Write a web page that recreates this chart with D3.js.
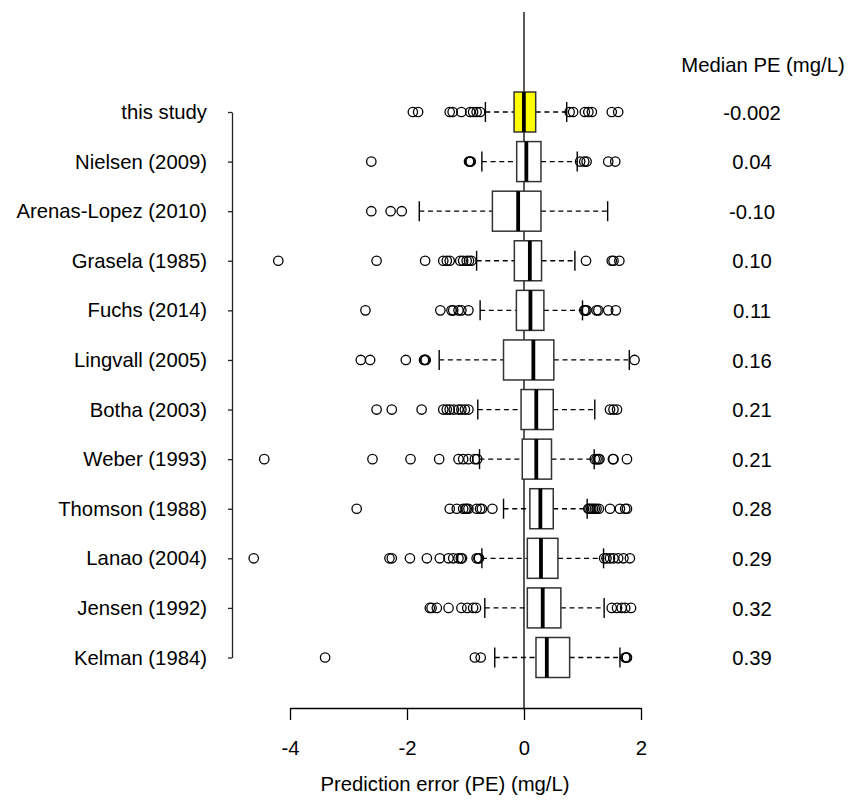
<!DOCTYPE html>
<html>
<head>
<meta charset="utf-8">
<script src="https://cdn.jsdelivr.net/npm/d3@7"></script>
<style>
  body { margin: 0; background: #fff; }
  text { font-family: "Liberation Sans", Arial, sans-serif; }
</style>
</head>
<body>
<div id="chart-area"></div>
<script>
// study names, top to bottom
var studies = ['this study', 'Nielsen (2009)', 'Arenas-Lopez (2010)', 'Grasela (1985)',
  'Fuchs (2014)', 'Lingvall (2005)', 'Botha (2003)', 'Weber (1993)',
  'Thomson (1988)', 'Lanao (2004)', 'Jensen (1992)', 'Kelman (1984)'];

// box statistics (mg/L)
var medians = [-0.002, 0.04, -0.10, 0.10, 0.11, 0.16, 0.21, 0.21, 0.28, 0.29, 0.32, 0.39];
var q1 = [-0.17, -0.125, -0.54, -0.165, -0.13, -0.35, -0.05, -0.03, 0.10, 0.057, 0.057, 0.205];
var q3 = [0.20, 0.29, 0.29, 0.30, 0.34, 0.51, 0.50, 0.47, 0.50, 0.58, 0.63, 0.78];
var whiskerLo = [-0.66, -0.72, -1.79, -0.81, -0.75, -1.45, -0.79, -0.76, -0.35, -0.72, -0.67, -0.50];
var whiskerHi = [0.73, 0.91, 1.43, 0.87, 1.00, 1.80, 1.21, 1.20, 1.08, 1.36, 1.37, 1.64];

// outlying points per study
var outliers = [
  [-1.90, -1.81, -1.27, -1.22, -1.07, -0.92, -0.87, -0.81, -0.75, 0.78, 0.84, 1.04, 1.10, 1.16, 1.50, 1.61],
  [-2.61, -0.94, -0.92, -0.91, 0.96, 1.03, 1.07, 1.44, 1.56],
  [-2.61, -2.28, -2.09],
  [-4.20, -2.52, -1.69, -1.38, -1.32, -1.27, -1.09, -1.04, -0.98, -0.94, -0.90, 1.06, 1.50, 1.53, 1.63],
  [-2.71, -1.43, -1.24, -1.21, -1.12, -1.07, -0.95, 1.03, 1.05, 1.07, 1.24, 1.27, 1.44, 1.57],
  [-2.79, -2.63, -2.02, -1.71, -1.69, -1.68, 1.89],
  [-2.52, -2.26, -1.75, -1.38, -1.32, -1.27, -1.20, -1.12, -1.07, -1.01, -0.95, 1.47, 1.53, 1.59],
  [-4.44, -2.59, -1.94, -1.45, -1.12, -1.04, -0.95, -0.84, -0.80, 1.21, 1.24, 1.27, 1.29, 1.52, 1.53, 1.76],
  [-2.86, -1.27, -1.15, -1.04, -1.00, -0.98, -0.95, -0.81, -0.75, -0.72, -0.54, 1.10, 1.12, 1.15, 1.18,
    1.21, 1.24, 1.28, 1.47, 1.64, 1.73, 1.76],
  [-4.62, -2.30, -2.26, -1.95, -1.66, -1.44, -1.29, -1.21, -1.12, -1.08, -1.06, -0.81, -0.78, -0.77,
    1.37, 1.41, 1.47, 1.53, 1.61, 1.70, 1.81],
  [-1.61, -1.58, -1.49, -1.29, -1.07, -0.97, -0.87, -0.82, 1.50, 1.59, 1.67, 1.73, 1.83],
  [-3.40, -0.84, -0.74, 1.73, 1.75, 1.76]
];

// labels in the right column
var medianLabels = ['-0.002', '0.04', '-0.10', '0.10', '0.11', '0.16', '0.21', '0.21', '0.28', '0.29', '0.32', '0.39'];
var xTicks = [-4, -2, 0, 2];
var xTickLabels = ['-4', '-2', '0', '2'];

var width = 850;
var height = 810;
var axisY = 708;
var fontStack = '"Liberation Sans", Arial, sans-serif';

var svg = d3.select('#chart-area')
  .append('svg')
    .attr('width', width)
    .attr('height', height);

var x = d3.scaleLinear()
  .domain([-4, 2])
  .range([290, 641]);

var y = d3.scalePoint()
  .domain(studies)
  .range([112, 657.5]);

var boxH = 40;
var capH = 20;

var rows = studies.map(function (s, i) {
  return {
    name: s, med: medians[i], q1: q1[i], q3: q3[i],
    lo: whiskerLo[i], hi: whiskerHi[i], out: outliers[i], label: medianLabels[i]
  };
});

// left axis with study names
var yAxis = svg.append('g')
  .attr('transform', 'translate(232,0)')
  .call(d3.axisLeft(y).tickSize(4).tickSizeOuter(0).tickPadding(21));
yAxis.selectAll('text')
  .attr('font-size', '20.3px')
  .attr('fill', '#000')
  .style('font-family', fontStack);
yAxis.selectAll('line, .domain').attr('stroke', '#222').attr('stroke-width', 1.3);

// bottom axis
var xAxis = svg.append('g')
  .attr('transform', 'translate(0,' + axisY + ')')
  .call(d3.axisBottom(x)
    .tickValues(xTicks)
    .tickSize(12)
    .tickSizeOuter(0)
    .tickPadding(21)
    .tickFormat(function (d, i) { return xTickLabels[i]; }));
xAxis.selectAll('text')
  .attr('font-size', '20.3px')
  .attr('fill', '#000')
  .style('font-family', fontStack);
xAxis.selectAll('line, .domain').attr('stroke', '#000').attr('stroke-width', 1.3);

// vertical reference line at zero
svg.append('line')
  .attr('x1', x(0)).attr('x2', x(0))
  .attr('y1', 12).attr('y2', axisY)
  .attr('stroke', '#000')
  .attr('stroke-width', 1.3);

var g = svg.selectAll('.row')
  .data(rows)
  .enter()
  .append('g')
    .attr('class', 'row')
    .attr('transform', function (d) { return 'translate(0,' + y(d.name) + ')'; });

// dashed whiskers
g.append('line')
  .attr('x1', function (d) { return x(d.lo); })
  .attr('x2', function (d) { return x(d.q1); })
  .attr('stroke', '#000').attr('stroke-width', 1.3).attr('stroke-dasharray', '5,3.7');
g.append('line')
  .attr('x1', function (d) { return x(d.q3); })
  .attr('x2', function (d) { return x(d.hi); })
  .attr('stroke', '#000').attr('stroke-width', 1.3).attr('stroke-dasharray', '5,3.7');

// whisker caps
g.append('line')
  .attr('x1', function (d) { return x(d.lo); })
  .attr('x2', function (d) { return x(d.lo); })
  .attr('y1', -capH / 2).attr('y2', capH / 2)
  .attr('stroke', '#000').attr('stroke-width', 1.4);
g.append('line')
  .attr('x1', function (d) { return x(d.hi); })
  .attr('x2', function (d) { return x(d.hi); })
  .attr('y1', -capH / 2).attr('y2', capH / 2)
  .attr('stroke', '#000').attr('stroke-width', 1.4);

// boxes
g.append('rect')
  .attr('x', function (d) { return x(d.q1); })
  .attr('width', function (d) { return x(d.q3) - x(d.q1); })
  .attr('y', -boxH / 2)
  .attr('height', boxH)
  .attr('fill', function (d, i) { return i === 0 ? '#ffff00' : '#fff'; })
  .attr('stroke', '#333')
  .attr('stroke-width', 1.5);

// medians
g.append('line')
  .attr('x1', function (d) { return x(d.med); })
  .attr('x2', function (d) { return x(d.med); })
  .attr('y1', -boxH / 2).attr('y2', boxH / 2)
  .attr('stroke', '#000')
  .attr('stroke-width', 3.8);

// outliers
g.selectAll('circle')
  .data(function (d) { return d.out; })
  .enter()
  .append('circle')
    .attr('cx', function (v) { return x(v); })
    .attr('cy', 0)
    .attr('r', 4.7)
    .attr('fill', 'none')
    .attr('stroke', '#000')
    .attr('stroke-width', 1.3);

// median values on the right
g.append('text')
  .attr('x', 752)
  .attr('dy', '0.38em')
  .attr('text-anchor', 'middle')
  .attr('font-size', '20.3px')
  .text(function (d) { return d.label; });

svg.append('text')
  .attr('x', 763)
  .attr('y', 72)
  .attr('text-anchor', 'middle')
  .attr('font-size', '20.3px')
  .text('Median PE (mg/L)');

// x axis title
svg.append('text')
  .attr('x', 445)
  .attr('y', 791)
  .attr('text-anchor', 'middle')
  .attr('font-size', '20.3px')
  .text('Prediction error (PE) (mg/L)');
</script>
</body>
</html>
